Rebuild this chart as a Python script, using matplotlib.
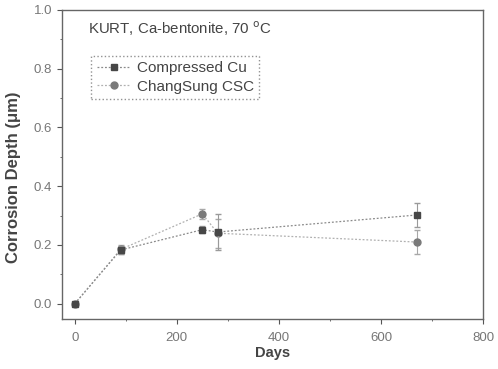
import matplotlib
matplotlib.use('Agg')
import matplotlib.pyplot as plt
from matplotlib.lines import Line2D
from matplotlib.ticker import MultipleLocator, FormatStrFormatter

plt.rcParams['font.family'] = ['Liberation Sans', 'DejaVu Sans']

# data
cu_days = [0, 90, 250, 280, 670]
cu_depth = [0.0, 0.183, 0.252, 0.244, 0.302]
cu_err = [0.0, 0.015, 0.012, 0.06, 0.04]

csc_days = [0, 90, 250, 280, 670]
csc_depth = [0.0, 0.185, 0.306, 0.240, 0.210]
csc_err = [0.0, 0.015, 0.018, 0.05, 0.04]

fig = plt.figure(figsize=(4.98, 3.69), dpi=100)
ax = fig.add_axes([0.1245, 0.1355, 0.8455, 0.8375])

csc_style = dict(color='#b0b0b0', ls=(0, (1.5, 1.5)), lw=0.9, marker='o', ms=5,
                 mfc='#7a7a7a', mec='#7a7a7a')
cu_style = dict(color='#8a8a8a', ls=(0, (1.5, 1.5)), lw=0.9, marker='s', ms=5,
                mfc='#474747', mec='#474747')

ax.errorbar(csc_days, csc_depth, yerr=csc_err, ecolor='#a8a8a8', elinewidth=0.8,
            capsize=2.5, zorder=2, **csc_style)
ax.errorbar(cu_days, cu_depth, yerr=cu_err, ecolor='#9a9a9a', elinewidth=0.8,
            capsize=2.5, zorder=3, **cu_style)

ax.set_xlim(-25, 800)
ax.set_ylim(-0.052, 1.0)
ax.xaxis.set_major_locator(MultipleLocator(200))
ax.xaxis.set_minor_locator(MultipleLocator(100))
ax.yaxis.set_major_locator(MultipleLocator(0.2))
ax.yaxis.set_minor_locator(MultipleLocator(0.1))
ax.yaxis.set_major_formatter(FormatStrFormatter('%.1f'))
ax.tick_params(which='both', direction='out', colors='#555555', labelsize=9.5, labelcolor='#777777')
ax.tick_params(which='major', length=3.5)
ax.tick_params(which='minor', length=1.5)
ax.tick_params(axis='x', pad=6)
for s in ax.spines.values():
    s.set_color('#666666')
    s.set_linewidth(1.0)

ax.set_xlabel('Days', fontsize=10.5, fontweight='bold', color='#444444', labelpad=1)
ax.set_ylabel('Corrosion Depth (\u03bcm)', fontsize=12, fontweight='bold', color='#444444')
ax.yaxis.set_label_coords(-0.098, 0.46)

ax.text(0.062, 0.94, 'KURT, Ca-bentonite, 70 $^{\\mathrm{o}}$C', transform=ax.transAxes,
        fontsize=10.8, color='#444444', va='center', ha='left')

handles = [Line2D([], [], **cu_style), Line2D([], [], **csc_style)]
labels = ['Compressed Cu', 'ChangSung CSC']
leg = ax.legend(handles, labels, loc='upper left', bbox_to_anchor=(0.07, 0.852), fontsize=11,
                frameon=True, fancybox=False, handlelength=2.2, borderpad=0.35,
                labelspacing=0.3, handletextpad=0.4, borderaxespad=0)
leg.get_frame().set_edgecolor('#777777')
leg.get_frame().set_linestyle(':')
leg.get_frame().set_linewidth(1.0)
for t in leg.get_texts():
    t.set_color('#444444')

fig.savefig('out.png', dpi=100)
